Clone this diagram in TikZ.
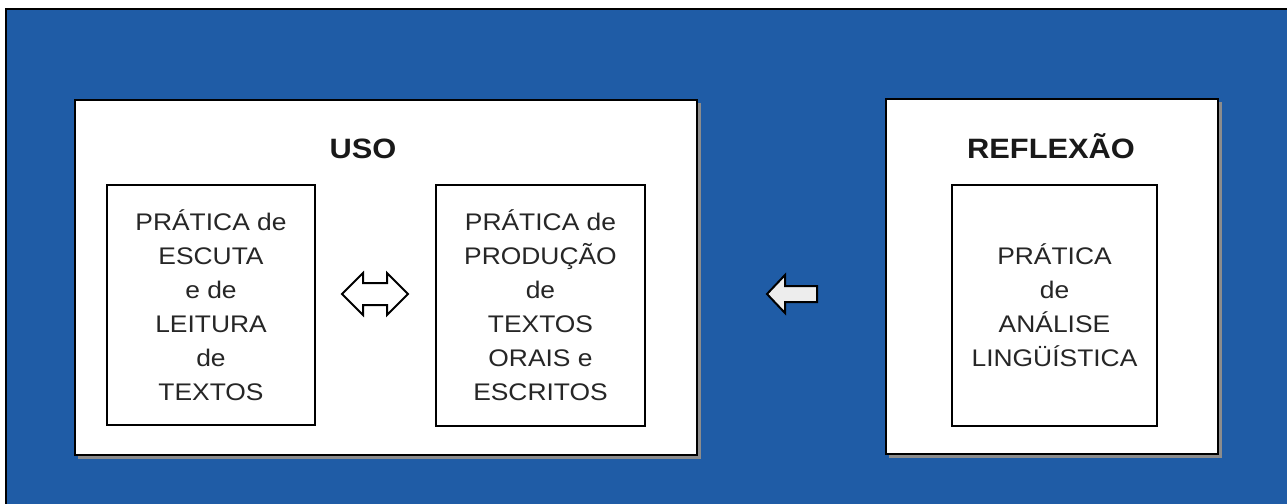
\documentclass[tikz,border=0pt]{standalone}
\usepackage{fontspec}
\setmainfont{Liberation Sans}[FakeStretch=1.1]
\usepackage{tikz}
\usetikzlibrary{calc}

\definecolor{fundo}{HTML}{1F5CA6}
\definecolor{texto}{HTML}{262626}

\tikzset{
  caixa/.style={draw=black, fill=white, line width=1pt},
  pratica/.style={align=center, text=texto, font=\fontsize{12}{17}\selectfont},
  titulo/.style={font=\fontsize{14}{17}\selectfont\bfseries, text=black!90, anchor=base},
  seta/.style={draw=black, line width=1pt, fill=white!93!black, line join=miter}
}

\begin{document}
\begin{tikzpicture}[x=0.5pt, y=-0.5pt]
          \useasboundingbox (0,0) rectangle (1287,504);
          \draw [fill=fundo, draw=black, line width=1pt] (6,9) rectangle (1295,512); % fundo azul

          \draw [black!45, line width=2pt] (78,457) -- (699,457) -- (699,103); % sombra
          \draw [caixa] (75,100) rectangle (697,455) node [midway] (uso) {}; % caixa USO
          \node [titulo] (usoTitulo) at (363,158) {USO};

          \draw [caixa] (107,185) rectangle (315,425) node [pratica, midway] (escuta) {PRÁTICA de\\ESCUTA\\e de\\LEITURA\\de\\TEXTOS}; % caixa esquerda
          \draw [caixa] (436,185) rectangle (645,426) node [pratica, midway] (producao) {PRÁTICA de\\PRODUÇÃO\\de\\TEXTOS\\ORAIS e\\ESCRITOS}; % caixa direita

          \draw [black!45, line width=2pt] (889,456) -- (1220,456) -- (1220,102); % sombra
          \draw [caixa] (886,99) rectangle (1218,454) node [midway] (reflexao) {}; % caixa REFLEXAO
          \node [titulo] (reflexaoTitulo) at (1051,158) {REFLEXÃO};
          \draw [caixa] (952,185) rectangle (1157,426) node [pratica, midway] (analise) {PRÁTICA\\de\\ANÁLISE\\LINGÜÍSTICA}; % caixa analise

          % seta dupla
          \coordinate (dupla) at (375,294);
          \draw [seta, fill=white] ($(dupla)+(-33,0)$) -- ($(dupla)+(-12,-21)$) -- ($(dupla)+(-12,-11)$)
            -- ($(dupla)+(12,-11)$) -- ($(dupla)+(12,-21)$) -- ($(dupla)+(33,0)$)
            -- ($(dupla)+(12,21)$) -- ($(dupla)+(12,11)$) -- ($(dupla)+(-12,11)$)
            -- ($(dupla)+(-12,21)$) -- cycle;

          % seta para a esquerda
          \coordinate (simples) at (767,294);
          \draw [seta] (simples) -- ($(simples)+(18,-19)$) -- ($(simples)+(18,-8)$)
            -- ($(simples)+(50,-8)$) -- ($(simples)+(50,8)$) -- ($(simples)+(18,8)$)
            -- ($(simples)+(18,19)$) -- cycle;
        \end{tikzpicture}
\end{document}
